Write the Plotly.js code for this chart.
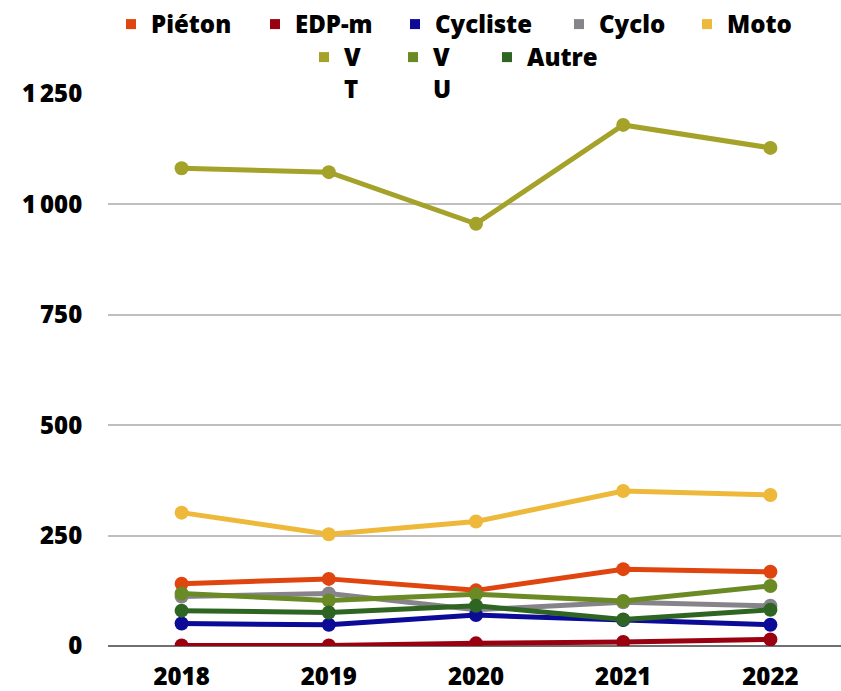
<!DOCTYPE html>
<html><head><meta charset="utf-8">
<script src="https://cdn.plot.ly/plotly-3.0.1.min.js"></script>
<style>html,body{margin:0;padding:0;overflow:hidden;background:#fff;width:841px;height:691px}</style>
</head><body><div id="chart"></div>
<script>
const years = ['2018','2019','2020','2021','2022'];
const pieton   = [141, 152, 126, 174, 168];
const edpm     = [1, 1, 6, 9, 15];
const cycliste = [51, 48, 70, 59, 48];
const cyclo    = [112, 119, 82, 99, 91];
const moto     = [302, 253, 282, 351, 342];
const vt       = [1082, 1073, 956, 1180, 1128];
const vu       = [119, 103, 117, 102, 136];
const autre    = [80, 76, 91, 60, 82];
const yTickVals = [0, 250, 500, 750, 1000, 1250];
const yTickText = ['0', '250', '500', '750', '1\u2009000', '1\u2009250'];

const series = [
  {name:'Piéton', label:'Piéton', y:pieton, color:'#E0450F'},
  {name:'EDP-m', label:'EDP-m', y:edpm, color:'#990010'},
  {name:'Cycliste', label:'Cycliste', y:cycliste, color:'#0B0B98'},
  {name:'Cyclo', label:'Cyclo', y:cyclo, color:'#86848A'},
  {name:'Moto', label:'Moto', y:moto, color:'#EEB83A'},
  {name:'VT', label:'V<br>T', y:vt, color:'#A5A22A'},
  {name:'VU', label:'V<br>U', y:vu, color:'#6A8A25'},
  {name:'Autre', label:'Autre', y:autre, color:'#2F6522'}
];
// legend placement (container pixels): symbol centre x, row centre y
const legendPos = [[131,17],[275,17],[415,17],[579,17],[707,17],[324,50],[413,50],[507,50]];

const drawOrder = ['VT','Moto','Piéton','Cyclo','VU','Cycliste','Autre','EDP-m'];
const traces = [];
drawOrder.forEach(n => {
  const s = series.find(d => d.name === n);
  traces.push({x: years, y: s.y, type:'scatter', mode:'lines+markers', name:s.name,
    line:{color:s.color, width:5}, marker:{color:s.color, size:14}, showlegend:false});
});
const W = 844, H = 691;
const lfont = {family:'Open Sans', size:24, color:'#000', weight:800};
const tfont = {family:'Open Sans', size:24, color:'#000', weight:800};
const layout = {
  width: W, height: H,
  margin: {l:108, r:0, t:94, b:45, autoexpand:false},
  paper_bgcolor:'#fff', plot_bgcolor:'#fff',
  font: tfont,
  showlegend: true,
  xaxis: {type:'category', range:[-0.5,4.5], tickfont:tfont, automargin:false,
    showgrid:false, zeroline:false, showline:false,
    ticks:'outside', ticklen:9, tickcolor:'rgba(0,0,0,0)', fixedrange:true},
  yaxis: {range:[0,1250], tickvals:yTickVals, ticktext:yTickText, tickfont:tfont, automargin:false,
    showgrid:true, gridcolor:'#BFBFBF', gridwidth:2, zeroline:true, zerolinecolor:'#707070', zerolinewidth:2,
    showline:false, ticks:'outside', ticklen:20, tickcolor:'rgba(0,0,0,0)', fixedrange:true}
};
series.forEach((s, i) => {
  const key = i === 0 ? 'legend' : 'legend' + (i + 1);
  traces.push({x:[null], y:[null], type:'scatter', mode:'markers', name:s.label,
    marker:{color:s.color, size:10, symbol:'square'}, legend:key, showlegend:true});
  const [px, py] = legendPos[i];
  layout[key] = {xref:'container', yref:'container', x:(px - 20) / W, xanchor:'left',
    y: 1 - (py - 15) / H, yanchor:'top', valign:'top',
    font:lfont, bgcolor:'rgba(0,0,0,0)', borderwidth:0};
});
Plotly.newPlot('chart', traces, layout, {displayModeBar:false, staticPlot:true});
</script></body></html>
